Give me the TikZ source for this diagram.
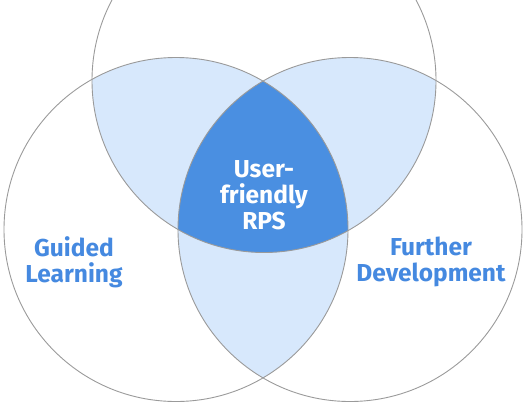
\documentclass[tikz,border=0pt]{standalone}
\usepackage{fontspec}
\setmainfont{Fira Sans}
\definecolor{lightfill}{HTML}{D7E8FC}
\definecolor{darkfill}{HTML}{4A8FE1}
\definecolor{txtblue}{HTML}{4589E0}
\definecolor{ringgray}{HTML}{9A9A9A}
\tikzset{
  ring/.style={draw=ringgray, line width=0.9pt},
  lbl/.style={align=center, font=\bfseries\fontsize{24.5}{26}\selectfont, text=txtblue, inner sep=0pt},
  midlbl/.style={lbl, text=white}
}
\begin{document}
\begin{tikzpicture}[x=1pt,y=-1pt]
\useasboundingbox (0,0) rectangle (530,405);
\def\R{172}
\coordinate (T) at (264,80.5);
\coordinate (L) at (176,229.5);
\coordinate (Rc) at (350,229.5);
% pairwise overlaps
\begin{scope}\clip (T) circle[radius=\R]; \fill[lightfill] (L) circle[radius=\R]; \fill[lightfill] (Rc) circle[radius=\R];\end{scope}
\begin{scope}\clip (L) circle[radius=\R]; \fill[lightfill] (Rc) circle[radius=\R];\end{scope}
% triple overlap
\begin{scope}\clip (T) circle[radius=\R]; \clip (L) circle[radius=\R]; \fill[darkfill] (Rc) circle[radius=\R];\end{scope}
\draw[ring] (T) circle[radius=\R];
\draw[ring] (L) circle[radius=\R];
\draw[ring] (Rc) circle[radius=\R];
\node[midlbl] (core) at (264,195) {User-\\friendly\\RPS};
\node[lbl] (guided) at (74,262) {Guided\\Learning};
\node[lbl] (further) at (431,262) {Further\\Development};
\end{tikzpicture}
\end{document}
